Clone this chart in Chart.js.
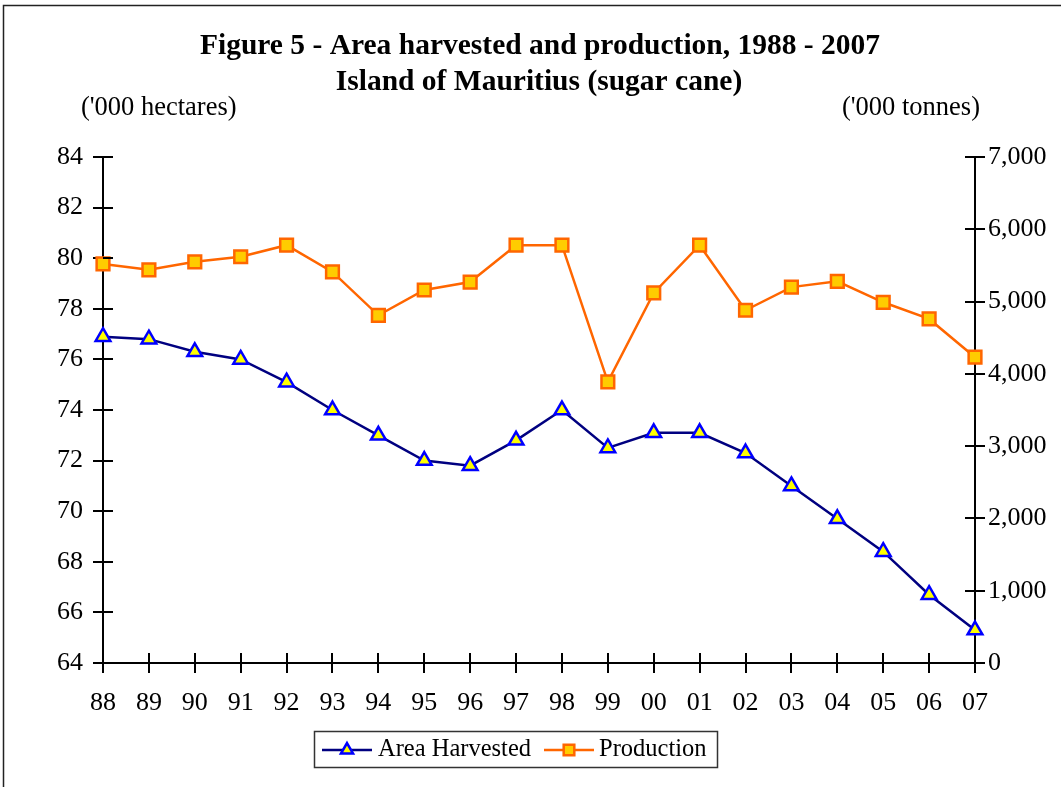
<!DOCTYPE html>
<html lang="en">
<head>
  <meta charset="UTF-8" />
  <title>Figure 5 - Area harvested and production</title>
  <script src="https://cdn.jsdelivr.net/npm/chart.js"></script>
  <style>
    html, body { margin: 0; padding: 0; background: #fff; }
    #wrap { position: relative; width: 1061px; height: 787px; }
  </style>
</head>
<body>
  <div id="wrap"><canvas id="chart" width="1061" height="787"></canvas></div>

  <script>
    // data
    const years = ['88','89','90','91','92','93','94','95','96','97','98','99','00','01','02','03','04','05','06','07'];
    const areaHarvested = [76.9, 76.8, 76.3, 76.0, 75.1, 74.0, 73.0, 72.0, 71.8, 72.8, 74.0, 72.5, 73.1, 73.1, 72.3, 71.0, 69.7, 68.4, 66.7, 65.3];
    const production = [5520, 5440, 5550, 5620, 5780, 5410, 4810, 5160, 5270, 5780, 5780, 3890, 5120, 5780, 4880, 5200, 5280, 4990, 4760, 4230];
    const leftTicks = [64, 66, 68, 70, 72, 74, 76, 78, 80, 82, 84];
    const rightTicks = [0, 1000, 2000, 3000, 4000, 5000, 6000, 7000];

    const FONT = '"Liberation Serif", "Times New Roman", serif';

    // title, unit labels, inward ticks, frame, legend
    const decorations = {
      id: 'decorations',
      afterDraw(chart) {
        const ctx = chart.ctx;
        const { x, y, y1 } = chart.scales;
        ctx.save();

        // outer frame
        ctx.strokeStyle = '#222';
        ctx.lineWidth = 1.5;
        ctx.beginPath();
        ctx.moveTo(3.5, 800);
        ctx.lineTo(3.5, 5.5);
        ctx.lineTo(1070, 5.5);
        ctx.stroke();

        // title
        ctx.fillStyle = '#000';
        ctx.textAlign = 'center';
        ctx.textBaseline = 'middle';
        ctx.font = 'bold 29.5px ' + FONT;
        ctx.fillText('Figure 5 - Area harvested and production, 1988 - 2007', 540, 46);
        ctx.fillText('Island of Mauritius (sugar cane)', 539, 82);

        // unit labels
        ctx.font = '26.5px ' + FONT;
        ctx.textAlign = 'left';
        ctx.fillText("('000 hectares)", 81, 108);
        ctx.textAlign = 'right';
        ctx.fillText("('000 tonnes)", 980, 108);

        // inward half of the cross ticks
        ctx.strokeStyle = '#000';
        ctx.lineWidth = 2;
        ctx.beginPath();
        leftTicks.forEach(v => {
          const py = Math.round(y.getPixelForValue(v));
          ctx.moveTo(x.left, py); ctx.lineTo(x.left + 10, py);
        });
        rightTicks.forEach(v => {
          const py = Math.round(y1.getPixelForValue(v));
          ctx.moveTo(x.right, py); ctx.lineTo(x.right - 10, py);
        });
        years.forEach((_, i) => {
          const px = Math.round(x.getPixelForValue(i));
          ctx.moveTo(px, y.bottom); ctx.lineTo(px, y.bottom - 10);
        });
        ctx.stroke();

        // legend
        const lx = 314, ly = 731, lw = 403, lh = 36;
        ctx.strokeStyle = '#333';
        ctx.lineWidth = 1.5;
        ctx.strokeRect(lx + 0.5, ly + 0.5, lw, lh);
        const cy = ly + lh / 2 + 1;
        chart.data.datasets.forEach((ds, i) => {
          const sx = i === 0 ? 322 : 544;
          const tx = i === 0 ? 378 : 599;
          ctx.strokeStyle = ds.borderColor;
          ctx.lineWidth = ds.borderWidth;
          ctx.beginPath();
          ctx.moveTo(sx, cy); ctx.lineTo(sx + 50, cy);
          ctx.stroke();
          ctx.fillStyle = ds.pointBackgroundColor;
          ctx.strokeStyle = ds.pointBorderColor;
          ctx.lineWidth = ds.pointBorderWidth;
          Chart.helpers.drawPoint(ctx, { pointStyle: ds.pointStyle, radius: ds.pointRadius - 1.5, borderWidth: ds.pointBorderWidth }, sx + 25, cy);
          ctx.fillStyle = '#000';
          ctx.font = '24.5px ' + FONT;
          ctx.textAlign = 'left';
          ctx.textBaseline = 'middle';
          ctx.fillText(ds.label, tx, cy);
        });

        ctx.restore();
      }
    };

    new Chart(document.getElementById('chart'), {
      type: 'line',
      data: {
        labels: years,
        datasets: [
          {
            label: 'Area Harvested',
            data: areaHarvested,
            yAxisID: 'y',
            borderColor: '#000080',
            borderWidth: 2.5,
            pointStyle: 'triangle',
            pointRadius: 8.5,
            pointBackgroundColor: '#ffff00',
            pointBorderColor: '#0000ff',
            pointBorderWidth: 2.5,
            tension: 0
          },
          {
            label: 'Production',
            data: production,
            yAxisID: 'y1',
            borderColor: '#ff6600',
            borderWidth: 2.5,
            pointStyle: 'rect',
            pointRadius: 9,
            pointBackgroundColor: '#ffcc00',
            pointBorderColor: '#ff6600',
            pointBorderWidth: 2.5,
            tension: 0
          }
        ]
      },
      options: {
        responsive: false,
        animation: false,
        layout: { padding: { top: 157, left: 0, right: 0, bottom: 0 } },
        plugins: {
          legend: { display: false },
          title: { display: false },
          tooltip: { enabled: false }
        },
        scales: {
          x: {
            offset: false,
            border: { color: '#000', width: 2 },
            grid: { drawOnChartArea: false, color: '#000', tickLength: 10, lineWidth: 2 },
            ticks: { color: '#000', font: { family: FONT, size: 26 }, padding: 15, maxRotation: 0, autoSkip: false },
            afterFit(scale) { scale.height = 124; }
          },
          y: {
            position: 'left',
            min: 64, max: 84,
            afterBuildTicks(scale) { scale.ticks = leftTicks.map(v => ({ value: v })); },
            border: { color: '#000', width: 2 },
            grid: { drawOnChartArea: false, color: '#000', tickLength: 10, lineWidth: 2 },
            ticks: { color: '#000', font: { family: FONT, size: 26 }, padding: 10 },
            afterFit(scale) { scale.width = 103; }
          },
          y1: {
            position: 'right',
            min: 0, max: 7000,
            afterBuildTicks(scale) { scale.ticks = rightTicks.map(v => ({ value: v })); },
            border: { color: '#000', width: 2 },
            grid: { drawOnChartArea: false, color: '#000', tickLength: 10, lineWidth: 2 },
            ticks: {
              color: '#000', font: { family: FONT, size: 26 }, padding: 3,
              callback: v => v.toLocaleString('en-US')
            },
            afterFit(scale) { scale.width = 86; }
          }
        }
      },
      plugins: [decorations]
    });
  </script>
</body>
</html>
